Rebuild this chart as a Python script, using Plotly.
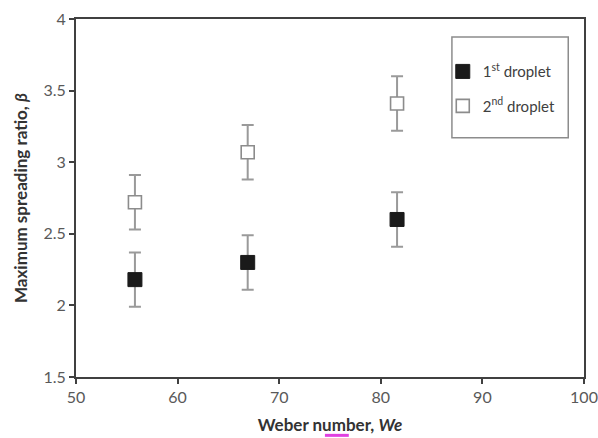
import plotly.graph_objects as go

we = [55.8, 66.9, 81.6]
beta_first = [2.18, 2.30, 2.60]
beta_second = [2.72, 3.07, 3.41]
err_first = [0.19, 0.19, 0.19]
err_second = [0.19, 0.19, 0.19]

FONT = "Lato, 'Open Sans', sans-serif"
AXC = "#404040"
ERRC = "#9a9a9a"

fig = go.Figure()
fig.add_trace(go.Scatter(
    x=we, y=beta_first, mode="markers", name="1<sup>st</sup> droplet",
    legendgroup="a",
    marker=dict(symbol="square", size=14, color="#1a1a1a", line=dict(color="#1a1a1a", width=1)),
    error_y=dict(type="data", array=err_first, color=ERRC, thickness=2, width=6),
))
fig.add_trace(go.Scatter(
    x=we, y=beta_second, mode="markers", name="2<sup>nd</sup> droplet",
    legendgroup="b",
    marker=dict(symbol="square", size=13, color="white", line=dict(color="#8c8c8c", width=1.6)),
    error_y=dict(type="data", array=err_second, color=ERRC, thickness=2, width=6),
))

# legend frame
fig.add_shape(type="rect", xref="paper", yref="paper",
              x0=0.740, x1=0.969, y0=0.668, y1=0.950,
              line=dict(color="#8c8c8c", width=1.5), fillcolor="white", layer="below")

fig.add_shape(type="line", xref="paper", yref="paper",
              x0=0.49, x1=0.537, y0=-0.163, y1=-0.163,
              line=dict(color="#e040e0", width=3))

fig.update_layout(
    width=598, height=438,
    margin=dict(l=76, r=14, t=19, b=61, autoexpand=False),
    paper_bgcolor="white", plot_bgcolor="white",
    font=dict(family=FONT, color="#595959", size=16),
    showlegend=True,
    legend=dict(
        x=0.722, y=0.899, xanchor="left", yanchor="top",
        bgcolor="rgba(0,0,0,0)", borderwidth=0,
        font=dict(family=FONT, size=15, color="#404040"),
        tracegroupgap=12, itemwidth=30,
        entrywidth=90,
    ),
    xaxis=dict(
        range=[50, 100], tickvals=[50, 60, 70, 80, 90, 100],
        showline=True, linecolor=AXC, linewidth=2, mirror=True,
        ticks="outside", ticklen=5, tickcolor=AXC, tickwidth=1.5,
        showgrid=False, zeroline=False, automargin=False,
        title=dict(text="<b>Weber number, <i>We</i></b>", font=dict(size=17, color="#333333"), standoff=14),
    ),
    yaxis=dict(
        range=[1.5, 4], tickvals=[1.5, 2, 2.5, 3, 3.5, 4],
        ticktext=["1.5", "2", "2.5", "3", "3.5", "4"],
        showline=True, linecolor=AXC, linewidth=2, mirror=True,
        ticks="outside", ticklen=5, tickcolor=AXC, tickwidth=1.5,
        showgrid=False, zeroline=False, automargin=False,
        title=dict(text="<b>Maximum spreading ratio, <i>β</i></b>", font=dict(size=17, color="#333333"), standoff=12),
    ),
)

fig.write_html("out.html")
